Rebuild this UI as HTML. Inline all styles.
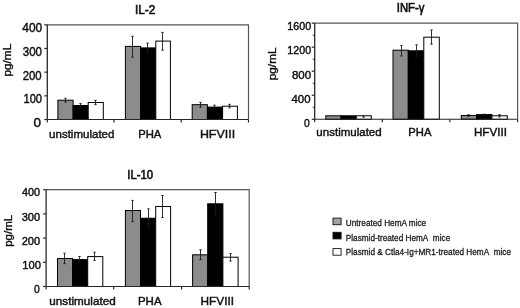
<!DOCTYPE html>
<html><head><meta charset="utf-8"><style>
html,body{margin:0;padding:0;background:#fff;width:520px;height:308px;overflow:hidden}
svg{display:block;filter:grayscale(1)}
text{font-family:"Liberation Sans", sans-serif;fill:#111;stroke:#111;stroke-width:0.42px}
text.lg{fill:#1a1a1a;stroke:#1a1a1a;stroke-width:0.3px} text.tt{stroke-width:0.65px} text.pg{stroke-width:0.35px}
</style></head><body>
<svg width="520" height="308" viewBox="0 0 520 308">
<rect width="520" height="308" fill="#fff"/>
<rect x="57.90" y="100.20" width="15.20" height="19.30" fill="#8c8c8c" stroke="#000" stroke-width="1"/>
<rect x="73.10" y="105.50" width="15.10" height="14.00" fill="#000" stroke="#000" stroke-width="1"/>
<rect x="88.20" y="102.50" width="15.10" height="17.00" fill="#fff" stroke="#000" stroke-width="1"/>
<rect x="125.40" y="46.40" width="15.20" height="73.10" fill="#8c8c8c" stroke="#000" stroke-width="1"/>
<rect x="140.60" y="47.90" width="15.20" height="71.60" fill="#000" stroke="#000" stroke-width="1"/>
<rect x="155.80" y="41.10" width="14.60" height="78.40" fill="#fff" stroke="#000" stroke-width="1"/>
<rect x="192.20" y="104.70" width="15.20" height="14.80" fill="#8c8c8c" stroke="#000" stroke-width="1"/>
<rect x="207.40" y="107.10" width="15.20" height="12.40" fill="#000" stroke="#000" stroke-width="1"/>
<rect x="222.60" y="106.20" width="14.80" height="13.30" fill="#fff" stroke="#000" stroke-width="1"/>
<path d="M65.50 98.30V102.20M64.30 98.30h2.4M64.30 102.20h2.4" stroke="#1a1a1a" stroke-width="0.9" fill="none"/>
<path d="M80.50 103.60V107.40M79.30 103.60h2.4M79.30 107.40h2.4" stroke="#1a1a1a" stroke-width="0.9" fill="none"/>
<path d="M95.50 100.30V104.60M94.30 100.30h2.4M94.30 104.60h2.4" stroke="#1a1a1a" stroke-width="0.9" fill="none"/>
<path d="M132.50 36.30V57.20M131.30 36.30h2.4M131.30 57.20h2.4" stroke="#1a1a1a" stroke-width="0.9" fill="none"/>
<path d="M147.50 43.20V52.60M146.30 43.20h2.4M146.30 52.60h2.4" stroke="#1a1a1a" stroke-width="0.9" fill="none"/>
<path d="M162.50 32.40V50.20M161.30 32.40h2.4M161.30 50.20h2.4" stroke="#1a1a1a" stroke-width="0.9" fill="none"/>
<path d="M200.50 102.30V107.20M199.30 102.30h2.4M199.30 107.20h2.4" stroke="#1a1a1a" stroke-width="0.9" fill="none"/>
<path d="M214.50 105.20V109.00M213.30 105.20h2.4M213.30 109.00h2.4" stroke="#1a1a1a" stroke-width="0.9" fill="none"/>
<path d="M229.50 104.30V107.80M228.30 104.30h2.4M228.30 107.80h2.4" stroke="#1a1a1a" stroke-width="0.9" fill="none"/>
<path d="M47.3 24.8H248.5V119.5" stroke="#555555" stroke-width="1.2" fill="none"/>
<path d="M47.3 24.8V119.5" stroke="#2a2a2a" stroke-width="1.3" fill="none"/>
<path d="M47.3 119.5H248.5" stroke="#262626" stroke-width="1.05" fill="none"/>
<path d="M44.3 24.8H47.3" stroke="#2a2a2a" stroke-width="1.2"/>
<path d="M44.3 48.475H47.3" stroke="#2a2a2a" stroke-width="1.2"/>
<path d="M44.3 72.15H47.3" stroke="#2a2a2a" stroke-width="1.2"/>
<path d="M44.3 95.825H47.3" stroke="#2a2a2a" stroke-width="1.2"/>
<path d="M44.3 119.5H47.3" stroke="#2a2a2a" stroke-width="1.2"/>
<path d="M47.3 119.5V122.5" stroke="#2a2a2a" stroke-width="1.2"/>
<path d="M114 119.5V122.5" stroke="#2a2a2a" stroke-width="1.2"/>
<path d="M181.2 119.5V122.5" stroke="#2a2a2a" stroke-width="1.2"/>
<path d="M248.5 119.5V122.5" stroke="#2a2a2a" stroke-width="1.2"/>
<rect x="325.80" y="115.80" width="15.20" height="3.50" fill="#8c8c8c" stroke="#000" stroke-width="1"/>
<rect x="341.00" y="115.80" width="15.20" height="3.50" fill="#000" stroke="#000" stroke-width="1"/>
<rect x="356.20" y="115.80" width="15.10" height="3.50" fill="#fff" stroke="#000" stroke-width="1"/>
<rect x="393.00" y="50.20" width="15.30" height="69.10" fill="#8c8c8c" stroke="#000" stroke-width="1"/>
<rect x="408.30" y="50.80" width="15.50" height="68.50" fill="#000" stroke="#000" stroke-width="1"/>
<rect x="423.80" y="37.20" width="15.50" height="82.10" fill="#fff" stroke="#000" stroke-width="1"/>
<rect x="461.30" y="115.50" width="15.30" height="3.80" fill="#8c8c8c" stroke="#000" stroke-width="1"/>
<rect x="476.60" y="114.60" width="15.30" height="4.70" fill="#000" stroke="#000" stroke-width="1"/>
<rect x="491.90" y="115.80" width="15.40" height="3.50" fill="#fff" stroke="#000" stroke-width="1"/>
<path d="M363.50 115.60V117.20M362.30 115.60h2.4M362.30 117.20h2.4" stroke="#1a1a1a" stroke-width="0.9" fill="none"/>
<path d="M401.50 45.40V56.00M400.30 45.40h2.4M400.30 56.00h2.4" stroke="#1a1a1a" stroke-width="0.9" fill="none"/>
<path d="M416.50 44.80V56.80M415.30 44.80h2.4M415.30 56.80h2.4" stroke="#1a1a1a" stroke-width="0.9" fill="none"/>
<path d="M431.50 30.00V44.20M430.30 30.00h2.4M430.30 44.20h2.4" stroke="#1a1a1a" stroke-width="0.9" fill="none"/>
<path d="M468.50 114.70V116.30M467.30 114.70h2.4M467.30 116.30h2.4" stroke="#1a1a1a" stroke-width="0.9" fill="none"/>
<path d="M484.50 114.20V115.00M483.30 114.20h2.4M483.30 115.00h2.4" stroke="#1a1a1a" stroke-width="0.9" fill="none"/>
<path d="M499.50 114.60V117.00M498.30 114.60h2.4M498.30 117.00h2.4" stroke="#1a1a1a" stroke-width="0.9" fill="none"/>
<path d="M314.7 23.1H517.6V119.3" stroke="#555555" stroke-width="1.2" fill="none"/>
<path d="M314.7 23.1V119.3" stroke="#2a2a2a" stroke-width="1.3" fill="none"/>
<path d="M314.7 119.3H517.6" stroke="#262626" stroke-width="1.05" fill="none"/>
<path d="M311.7 23.1H314.7" stroke="#2a2a2a" stroke-width="1.2"/>
<path d="M311.7 47.15H314.7" stroke="#2a2a2a" stroke-width="1.2"/>
<path d="M311.7 71.2H314.7" stroke="#2a2a2a" stroke-width="1.2"/>
<path d="M311.7 95.25H314.7" stroke="#2a2a2a" stroke-width="1.2"/>
<path d="M311.7 119.3H314.7" stroke="#2a2a2a" stroke-width="1.2"/>
<path d="M312.7 35.125H314.7" stroke="#2a2a2a" stroke-width="1"/>
<path d="M312.7 59.175H314.7" stroke="#2a2a2a" stroke-width="1"/>
<path d="M312.7 83.225H314.7" stroke="#2a2a2a" stroke-width="1"/>
<path d="M312.7 107.275H314.7" stroke="#2a2a2a" stroke-width="1"/>
<path d="M314.7 119.3V122.3" stroke="#2a2a2a" stroke-width="1.2"/>
<path d="M382.3 119.3V122.3" stroke="#2a2a2a" stroke-width="1.2"/>
<path d="M449.9 119.3V122.3" stroke="#2a2a2a" stroke-width="1.2"/>
<path d="M517.6 119.3V122.3" stroke="#2a2a2a" stroke-width="1.2"/>
<rect x="57.50" y="258.50" width="15.10" height="28.00" fill="#8c8c8c" stroke="#000" stroke-width="1"/>
<rect x="72.60" y="259.60" width="15.10" height="26.90" fill="#000" stroke="#000" stroke-width="1"/>
<rect x="87.70" y="256.60" width="15.10" height="29.90" fill="#fff" stroke="#000" stroke-width="1"/>
<rect x="125.40" y="210.50" width="15.10" height="76.00" fill="#8c8c8c" stroke="#000" stroke-width="1"/>
<rect x="140.50" y="218.20" width="15.20" height="68.30" fill="#000" stroke="#000" stroke-width="1"/>
<rect x="155.70" y="206.50" width="14.90" height="80.00" fill="#fff" stroke="#000" stroke-width="1"/>
<rect x="192.60" y="254.80" width="15.10" height="31.70" fill="#8c8c8c" stroke="#000" stroke-width="1"/>
<rect x="207.70" y="203.80" width="15.20" height="82.70" fill="#000" stroke="#000" stroke-width="1"/>
<rect x="222.90" y="257.20" width="15.20" height="29.30" fill="#fff" stroke="#000" stroke-width="1"/>
<path d="M64.50 253.20V263.70M63.30 253.20h2.4M63.30 263.70h2.4" stroke="#1a1a1a" stroke-width="0.9" fill="none"/>
<path d="M79.50 256.50V262.70M78.30 256.50h2.4M78.30 262.70h2.4" stroke="#1a1a1a" stroke-width="0.9" fill="none"/>
<path d="M94.50 252.20V260.40M93.30 252.20h2.4M93.30 260.40h2.4" stroke="#1a1a1a" stroke-width="0.9" fill="none"/>
<path d="M132.50 200.40V221.60M131.30 200.40h2.4M131.30 221.60h2.4" stroke="#1a1a1a" stroke-width="0.9" fill="none"/>
<path d="M148.50 208.80V227.60M147.30 208.80h2.4M147.30 227.60h2.4" stroke="#1a1a1a" stroke-width="0.9" fill="none"/>
<path d="M162.50 195.50V217.50M161.30 195.50h2.4M161.30 217.50h2.4" stroke="#1a1a1a" stroke-width="0.9" fill="none"/>
<path d="M200.50 249.80V259.60M199.30 249.80h2.4M199.30 259.60h2.4" stroke="#1a1a1a" stroke-width="0.9" fill="none"/>
<path d="M215.50 192.50V214.50M214.30 192.50h2.4M214.30 214.50h2.4" stroke="#1a1a1a" stroke-width="0.9" fill="none"/>
<path d="M230.50 253.60V261.10M229.30 253.60h2.4M229.30 261.10h2.4" stroke="#1a1a1a" stroke-width="0.9" fill="none"/>
<path d="M46.1 189.7H249.2V286.5" stroke="#555555" stroke-width="1.2" fill="none"/>
<path d="M46.1 189.7V286.5" stroke="#2a2a2a" stroke-width="1.3" fill="none"/>
<path d="M46.1 286.5H249.2" stroke="#262626" stroke-width="1.05" fill="none"/>
<path d="M43.1 189.7H46.1" stroke="#2a2a2a" stroke-width="1.2"/>
<path d="M43.1 213.9H46.1" stroke="#2a2a2a" stroke-width="1.2"/>
<path d="M43.1 238.1H46.1" stroke="#2a2a2a" stroke-width="1.2"/>
<path d="M43.1 262.3H46.1" stroke="#2a2a2a" stroke-width="1.2"/>
<path d="M43.1 286.5H46.1" stroke="#2a2a2a" stroke-width="1.2"/>
<path d="M46.1 286.5V289.5" stroke="#2a2a2a" stroke-width="1.2"/>
<path d="M113.7 286.5V289.5" stroke="#2a2a2a" stroke-width="1.2"/>
<path d="M181.6 286.5V289.5" stroke="#2a2a2a" stroke-width="1.2"/>
<path d="M249.2 286.5V289.5" stroke="#2a2a2a" stroke-width="1.2"/>
<text class="tt" x="145.14" y="14.12" text-anchor="middle" font-size="13.00" textLength="20.25" lengthAdjust="spacingAndGlyphs">IL-2</text>
<text x="42.22" y="32.30" text-anchor="end" font-size="12.00" textLength="19.87" lengthAdjust="spacingAndGlyphs">400</text>
<text x="42.00" y="55.98" text-anchor="end" font-size="12.00" textLength="19.27" lengthAdjust="spacingAndGlyphs">300</text>
<text x="41.64" y="79.65" text-anchor="end" font-size="12.00" textLength="18.96" lengthAdjust="spacingAndGlyphs">200</text>
<text x="42.00" y="103.33" text-anchor="end" font-size="12.00" textLength="18.50" lengthAdjust="spacingAndGlyphs">100</text>
<text x="40.94" y="126.60" text-anchor="end" font-size="12.00" textLength="7.50" lengthAdjust="spacingAndGlyphs">0</text>
<text x="81.75" y="138.20" text-anchor="middle" font-size="11.80" textLength="65.33" lengthAdjust="spacingAndGlyphs">unstimulated</text>
<text x="149.78" y="138.20" text-anchor="middle" font-size="11.80" textLength="23.20" lengthAdjust="spacingAndGlyphs">PHA</text>
<text x="217.50" y="138.20" text-anchor="middle" font-size="11.80" textLength="35.21" lengthAdjust="spacingAndGlyphs">HFVIII</text>
<text class="pg" transform="translate(7.52 60.15) rotate(-90)" text-anchor="middle" dominant-baseline="central" font-size="10.20" textLength="32.84" lengthAdjust="spacingAndGlyphs">pg/mL</text>
<text class="tt" x="410.59" y="11.60" text-anchor="middle" font-size="12.00" textLength="27.51" lengthAdjust="spacingAndGlyphs">INF-γ</text>
<text x="311.14" y="30.40" text-anchor="end" font-size="11.60" textLength="23.89" lengthAdjust="spacingAndGlyphs">1600</text>
<text x="311.14" y="54.45" text-anchor="end" font-size="11.60" textLength="23.85" lengthAdjust="spacingAndGlyphs">1200</text>
<text x="311.14" y="78.50" text-anchor="end" font-size="11.60" textLength="19.22" lengthAdjust="spacingAndGlyphs">800</text>
<text x="310.50" y="102.55" text-anchor="end" font-size="11.60" textLength="19.02" lengthAdjust="spacingAndGlyphs">400</text>
<text x="309.72" y="126.60" text-anchor="end" font-size="11.60" textLength="5.73" lengthAdjust="spacingAndGlyphs">0</text>
<text x="349.04" y="135.90" text-anchor="middle" font-size="11.20" textLength="65.31" lengthAdjust="spacingAndGlyphs">unstimulated</text>
<text x="419.92" y="135.90" text-anchor="middle" font-size="11.20" textLength="23.10" lengthAdjust="spacingAndGlyphs">PHA</text>
<text x="490.43" y="135.90" text-anchor="middle" font-size="11.20" textLength="32.93" lengthAdjust="spacingAndGlyphs">HFVIII</text>
<text class="pg" transform="translate(272.35 63.87) rotate(-90)" text-anchor="middle" dominant-baseline="central" font-size="10.40" textLength="32.79" lengthAdjust="spacingAndGlyphs">pg/mL</text>
<text class="tt" x="140.13" y="178.76" text-anchor="middle" font-size="12.50" textLength="25.62" lengthAdjust="spacingAndGlyphs">IL-10</text>
<text x="40.14" y="196.40" text-anchor="end" font-size="11.10" textLength="18.07" lengthAdjust="spacingAndGlyphs">400</text>
<text x="40.14" y="220.60" text-anchor="end" font-size="11.10" textLength="18.50" lengthAdjust="spacingAndGlyphs">300</text>
<text x="40.14" y="244.80" text-anchor="end" font-size="11.10" textLength="18.50" lengthAdjust="spacingAndGlyphs">200</text>
<text x="41.00" y="269.00" text-anchor="end" font-size="11.10" textLength="18.70" lengthAdjust="spacingAndGlyphs">100</text>
<text x="39.72" y="293.20" text-anchor="end" font-size="11.10" textLength="5.77" lengthAdjust="spacingAndGlyphs">0</text>
<text x="82.50" y="305.36" text-anchor="middle" font-size="10.90" textLength="66.28" lengthAdjust="spacingAndGlyphs">unstimulated</text>
<text x="149.78" y="305.36" text-anchor="middle" font-size="10.90" textLength="23.61" lengthAdjust="spacingAndGlyphs">PHA</text>
<text x="217.28" y="305.36" text-anchor="middle" font-size="10.90" textLength="33.49" lengthAdjust="spacingAndGlyphs">HFVIII</text>
<text class="pg" transform="translate(7.63 230.86) rotate(-90)" text-anchor="middle" dominant-baseline="central" font-size="10.80" textLength="31.95" lengthAdjust="spacingAndGlyphs">pg/mL</text>
<rect x="333.0" y="218.10" width="8.1" height="6.6" fill="#a2a2a2" stroke="#111" stroke-width="0.9"/>
<text x="345.8" y="226.10" font-size="9.5" class="lg" textLength="80.4" lengthAdjust="spacingAndGlyphs">Untreated HemA mice</text>
<rect x="333.0" y="232.30" width="8.1" height="6.6" fill="#000" stroke="#111" stroke-width="0.9"/>
<text x="345.8" y="240.90" font-size="9.5" class="lg" textLength="104.4" lengthAdjust="spacingAndGlyphs">Plasmid-treated HemA  mice</text>
<rect x="333.0" y="248.60" width="8.1" height="6.6" fill="#fff" stroke="#111" stroke-width="0.9"/>
<text x="345.8" y="255.40" font-size="9.5" class="lg" textLength="165.2" lengthAdjust="spacingAndGlyphs">Plasmid &amp; Ctla4-Ig+MR1-treated HemA  mice</text>
</svg>
</body></html>
